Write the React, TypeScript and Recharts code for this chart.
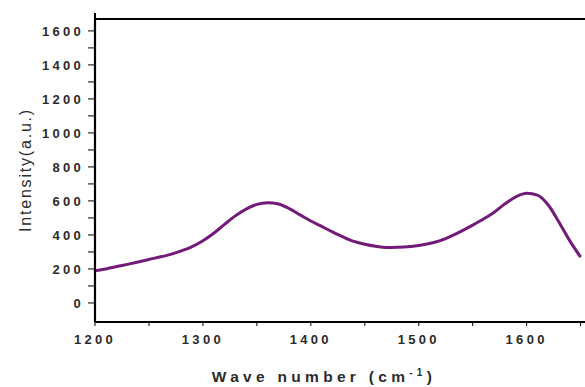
import { LineChart, Line, XAxis, YAxis } from 'recharts';

// Raman spectrum
const waveNumbers = [
    1200, 1210, 1220, 1230, 1240, 1250, 1260, 1270, 1280, 1290,
    1300, 1310, 1320, 1330, 1340, 1350, 1360, 1370, 1380, 1390,
    1400, 1410, 1420, 1430, 1440, 1450, 1460, 1470, 1480, 1490,
    1500, 1510, 1520, 1530, 1540, 1550, 1560, 1570, 1580, 1590,
    1600, 1610, 1620, 1630, 1640, 1650,
];
const intensity = [
    190, 200, 214, 227, 241, 256, 270, 286, 306, 331,
    366, 410, 462, 512, 552, 580, 590, 582, 555, 518,
    482, 450, 418, 388, 362, 345, 333, 326, 327, 330,
    338, 350, 367, 393, 424, 458, 494, 534, 583, 624,
    645, 634, 576, 475, 365, 270,
];
const xTicks = [1200, 1250, 1300, 1350, 1400, 1450, 1500, 1550, 1600, 1650];
const yTicks = [0, 100, 200, 300, 400, 500, 600, 700, 800, 900, 1000, 1100, 1200, 1300, 1400, 1500, 1600];

const data = waveNumbers.map((w, i) => ({ w, v: intensity[i] }));

const font = '"Liberation Sans", Arial, sans-serif';
const tickStyle = {
    fill: '#2b2b2b',
    fontSize: 13,
    fontWeight: 700,
    fontFamily: font,
    letterSpacing: 3.3,
};

function XTitle() {
    return (
        <text
            x={324}
            y={382}
            textAnchor="middle"
            fill="#2b2b2b"
            fontSize={15.5}
            fontWeight={700}
            fontFamily={font}
            letterSpacing={4.3}
        >
            Wave number (cm
            <tspan fontSize={10} dy={-6}>-1</tspan>
            <tspan dy={6}>)</tspan>
        </text>
    );
}

function YTitle() {
    return (
        <text
            x={25}
            y={170}
            transform="rotate(-90, 25, 170)"
            textAnchor="middle"
            dominantBaseline="central"
            fill="#2b2b2b"
            fontSize={16}
            fontFamily={font}
            letterSpacing={1.8}
        >
            Intensity(a.u.)
        </text>
    );
}

export default function App() {
    return (
        <div style={{ position: 'fixed', left: 0, top: 0, width: 585, height: 387, overflow: 'hidden', background: '#fff' }}>
            <LineChart
                width={600}
                height={387}
                data={data}
                margin={{ top: 19, right: 14, bottom: 0, left: 0 }}
            >
                <XAxis
                    dataKey="w"
                    type="number"
                    domain={[1200, 1655]}
                    ticks={xTicks}
                    allowDataOverflow
                    height={65}
                    axisLine={{ stroke: '#000', strokeWidth: 2.2 }}
                    tickLine={{ stroke: '#000', strokeWidth: 1 }}
                    tickSize={4}
                    tickMargin={9}
                    tick={tickStyle}
                    tickFormatter={(v: number) => (v % 100 === 0 ? String(v) : '')}
                    interval={0}
                    label={<XTitle />}
                />
                <YAxis
                    type="number"
                    domain={[-112, 1670]}
                    ticks={yTicks}
                    allowDataOverflow
                    width={95}
                    axisLine={{ stroke: '#000', strokeWidth: 2.2 }}
                    tickLine={{ stroke: '#000', strokeWidth: 1 }}
                    tickSize={7}
                    tickMargin={4}
                    tick={tickStyle}
                    tickFormatter={(v: number) => (v % 200 === 0 ? String(v) : '')}
                    interval={0}
                    label={<YTitle />}
                />
                <Line
                    dataKey="v"
                    type="monotone"
                    stroke="#731b78"
                    strokeWidth={3}
                    dot={false}
                    isAnimationActive={false}
                />
            </LineChart>
            {/* top frame border and the short axis stub above it */}
            <div style={{ position: 'absolute', left: 94, top: 18, width: 500, height: 2, background: '#000' }} />
            <div style={{ position: 'absolute', left: 94, top: 13, width: 2, height: 6, background: '#000' }} />
        </div>
    );
}
